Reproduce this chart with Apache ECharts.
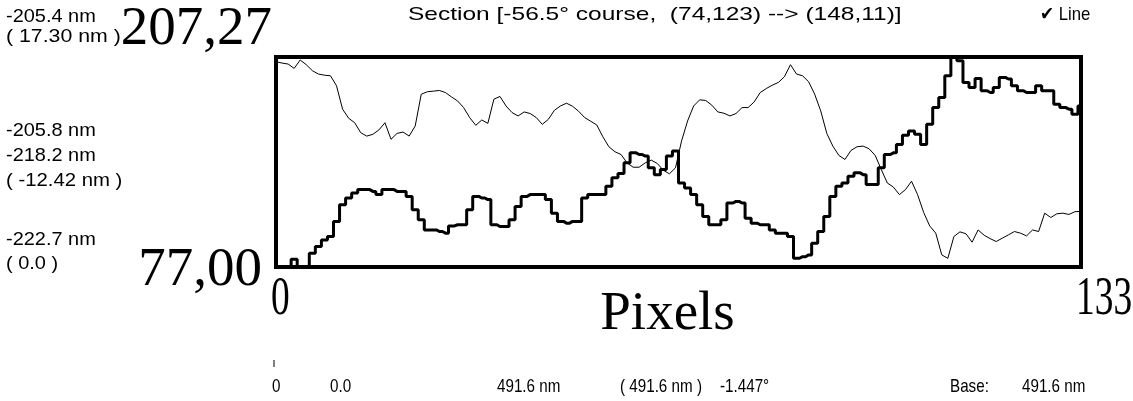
<!DOCTYPE html>
<html>
<head>
<meta charset="utf-8">
<script src="https://cdn.jsdelivr.net/npm/echarts@6/dist/echarts.min.js"></script>
<style>
html,body{margin:0;padding:0;background:#fff;}
#c{width:1133px;height:401px;}
</style>
</head>
<body>
<div id="c"></div>
<script>
// x: pixel index along the section (0..133)
const xTickValues = [0, 133];
const xTickLabels = ['0', '133'];
const yTickValues = [77, 207.27];
const yTickLabels = ['77,00', '207,27'];

// thick profile (one value per pixel 0..133)
const thickProfile = [
  77, 77, 77, 81.8, 77, 77, 85.5, 89.7, 93.8, 95.9,
  105.3, 115.6, 119.8, 122.9, 125.0, 125.0, 123.9, 121.9, 125.0, 125.0,
  123.9, 123.9, 120.8, 112.5, 106.3, 100.0, 100.0, 99.0, 98.0, 102.5,
  103.2, 103.2, 112.5, 120.8, 119.8, 118.8, 103.2, 102.1, 102.1, 106.3,
  114.6, 120.8, 121.9, 121.9, 121.9, 118.8, 110.4, 105.3, 104.2, 105.3,
  105.3, 119.8, 121.9, 121.9, 121.9, 127.1, 132.3, 135.0, 141.6, 147.8,
  146.8, 145.8, 138.5, 134.3, 137.5, 145.8, 148.9, 129.1, 126.0, 121.9,
  115.6, 108.4, 103.2, 103.2, 106.3, 116.7, 117.7, 116.7, 107.3, 104.2,
  103.2, 103.2, 100.0, 98.0, 98.0, 95.9, 82.4, 83.4, 84.5, 91.7,
  99.0, 108.4, 120.8, 127.1, 129.1, 133.3, 135.4, 134.3, 128.1, 128.1,
  138.5, 146.8, 147.8, 153.0, 158.7, 161.3, 159.3, 153.0, 165.5, 175.9,
  182.1, 195.6, 207.27, 205.0, 191.5, 188.4, 194.0, 186.3, 185.2, 188.4,
  194.6, 193.6, 189.4, 186.3, 185.2, 185.2, 189.4, 186.3, 186.3, 178.0,
  175.9, 174.9, 171.7, 176.9
];

// thin profile (one value per pixel 0..133)
const thinProfile = [
  204.4, 203.5, 202.9, 200.2, 205.4, 202.5, 198.8, 196.7, 196.0, 195.6,
  189.4, 174.9, 169.3, 166.5, 160.3, 158.2, 159.3, 162.0, 166.5, 156.2,
  159.9, 160.7, 158.2, 164.5, 184.2, 185.7, 186.1, 186.5, 185.2, 182.5,
  180.0, 175.9, 169.7, 164.9, 168.2, 166.1, 181.1, 182.8, 176.9, 172.8,
  170.7, 173.2, 172.2, 169.7, 165.5, 168.6, 174.2, 176.9, 178.6, 176.7,
  173.6, 169.7, 167.4, 165.1, 157.8, 151.6, 148.5, 146.8, 141.6, 138.9,
  138.9, 141.6, 143.3, 141.2, 137.0, 134.8, 138.5, 155.1, 167.6, 176.9,
  180.7, 180.3, 177.4, 173.2, 172.4, 170.7, 172.2, 175.9, 175.9, 179.4,
  185.2, 187.7, 189.8, 191.5, 195.0, 202.5, 196.7, 195.6, 191.9, 184.2,
  173.8, 159.9, 152.0, 146.2, 143.7, 149.3, 151.6, 152.0, 150.3, 146.2,
  137.5, 129.1, 126.6, 121.9, 125.0, 130.2, 121.9, 110.9, 102.5, 98.0,
  84.5, 82.4, 95.9, 98.8, 97.6, 92.4, 100.0, 96.7, 94.6, 92.8,
  94.9, 96.9, 99.0, 98.0, 96.3, 100.0, 99.0, 110.4, 107.7, 110.0,
  110.4, 109.6, 111.3, 111.5
];

const titleText = 'Section [-56.5\u00b0 course,  (74,123) --> (148,11)]';
const legendText = '\u2714 Line';
const leftTexts = ['-205.4 nm', '( 17.30 nm )', '-205.8 nm', '-218.2 nm', '( -12.42 nm )', '-222.7 nm', '( 0.0 )'];
const bottomTexts = ['0', '0.0', '491.6 nm', '( 491.6 nm )', '-1.447\u00b0', 'Base:', '491.6 nm'];

const SANS = '"Liberation Sans", Arial, sans-serif';
const SERIF = '"Liberation Serif", "Times New Roman", serif';

function txt(text, x, y, size, sx, align, family) {
  return {
    type: 'text', x: x, y: y, scaleX: sx, z: 10,
    style: { text: text, fontFamily: family || SANS, fontSize: size, fill: '#000',
             align: align || 'left', verticalAlign: 'middle' }
  };
}

const leftY = [17, 37, 131, 156, 181, 240, 264];
const leftScale = [1.05, 1.12, 1.05, 1.05, 1.07, 1.05, 1.05];
const bottomX = [272, 330, 497, 620, 720, 950, 1022];

const chart = echarts.init(document.getElementById('c'), null, { renderer: 'canvas' });
chart.setOption({
  backgroundColor: '#fff',
  animation: false,
  grid: { left: 276, top: 57, width: 805, height: 210, show: true, outerBoundsMode: 'none',
          containLabel: false,
          borderColor: '#000', borderWidth: 4, backgroundColor: 'transparent' },
  xAxis: {
    type: 'value', min: 0, max: 133, interval: 133,
    axisLine: { show: false }, axisTick: { show: false }, splitLine: { show: false },
    axisLabel: { show: false },
    name: 'Pixels', nameLocation: 'middle', nameGap: 20,
    nameTextStyle: { fontFamily: SERIF, fontSize: 55, color: '#000', padding: [0, 22, 0, 0] }
  },
  yAxis: {
    type: 'value', min: 77, max: 207.27, interval: 130.27,
    axisLine: { show: false }, axisTick: { show: false }, splitLine: { show: false },
    axisLabel: {
      margin: 4, color: '#000', fontFamily: SERIF, fontSize: 55,
      formatter: v => {
        if (Math.abs(v - yTickValues[1]) < 0.01) return '{t|' + yTickLabels[1] + '}';
        if (Math.abs(v - yTickValues[0]) < 0.01) return '{b|' + yTickLabels[0] + '}';
        return '';
      },
      rich: {
        t: { fontFamily: SERIF, fontSize: 55, color: '#000', padding: [0, 0, 54, 0] },
        b: { fontFamily: SERIF, fontSize: 55, color: '#000', padding: [8, 10, 0, 0] }
      }
    }
  },
  series: [
    { type: 'line', data: thinProfile.map((v, i) => [i, v]), symbol: 'none',
      lineStyle: { color: '#000', width: 1 }, z: 3 },
    { type: 'line', data: thickProfile.map((v, i) => [i, v]), symbol: 'none', step: 'middle',
      lineStyle: { color: '#000', width: 3 }, z: 4 }
  ]
});

// text elements; x tick labels are placed at the axis positions of their values
const graphics = [];
leftTexts.forEach((t, i) => graphics.push(txt(t, 6, leftY[i], 19, leftScale[i])));
bottomTexts.forEach((t, i) => graphics.push(txt(t, bottomX[i], 387, 19, 0.8)));
graphics.push(txt(titleText, 408, 15, 19, 1.29));
graphics.push(txt(legendText, 1040, 15, 19, 0.88));
graphics.push({ type: 'line', shape: { x1: 274, y1: 360, x2: 274, y2: 367 }, style: { stroke: '#000', lineWidth: 1 } });
const xBase = chart.convertToPixel({ gridIndex: 0 }, [0, 77]);
xTickValues.forEach((v, i) => {
  const p = chart.convertToPixel({ xAxisIndex: 0 }, v);
  graphics.push(txt(xTickLabels[i], p - 5, xBase[1] + 33, 55, 0.68, 'left', SERIF));
});
chart.setOption({ graphic: graphics });
</script>
</body>
</html>
